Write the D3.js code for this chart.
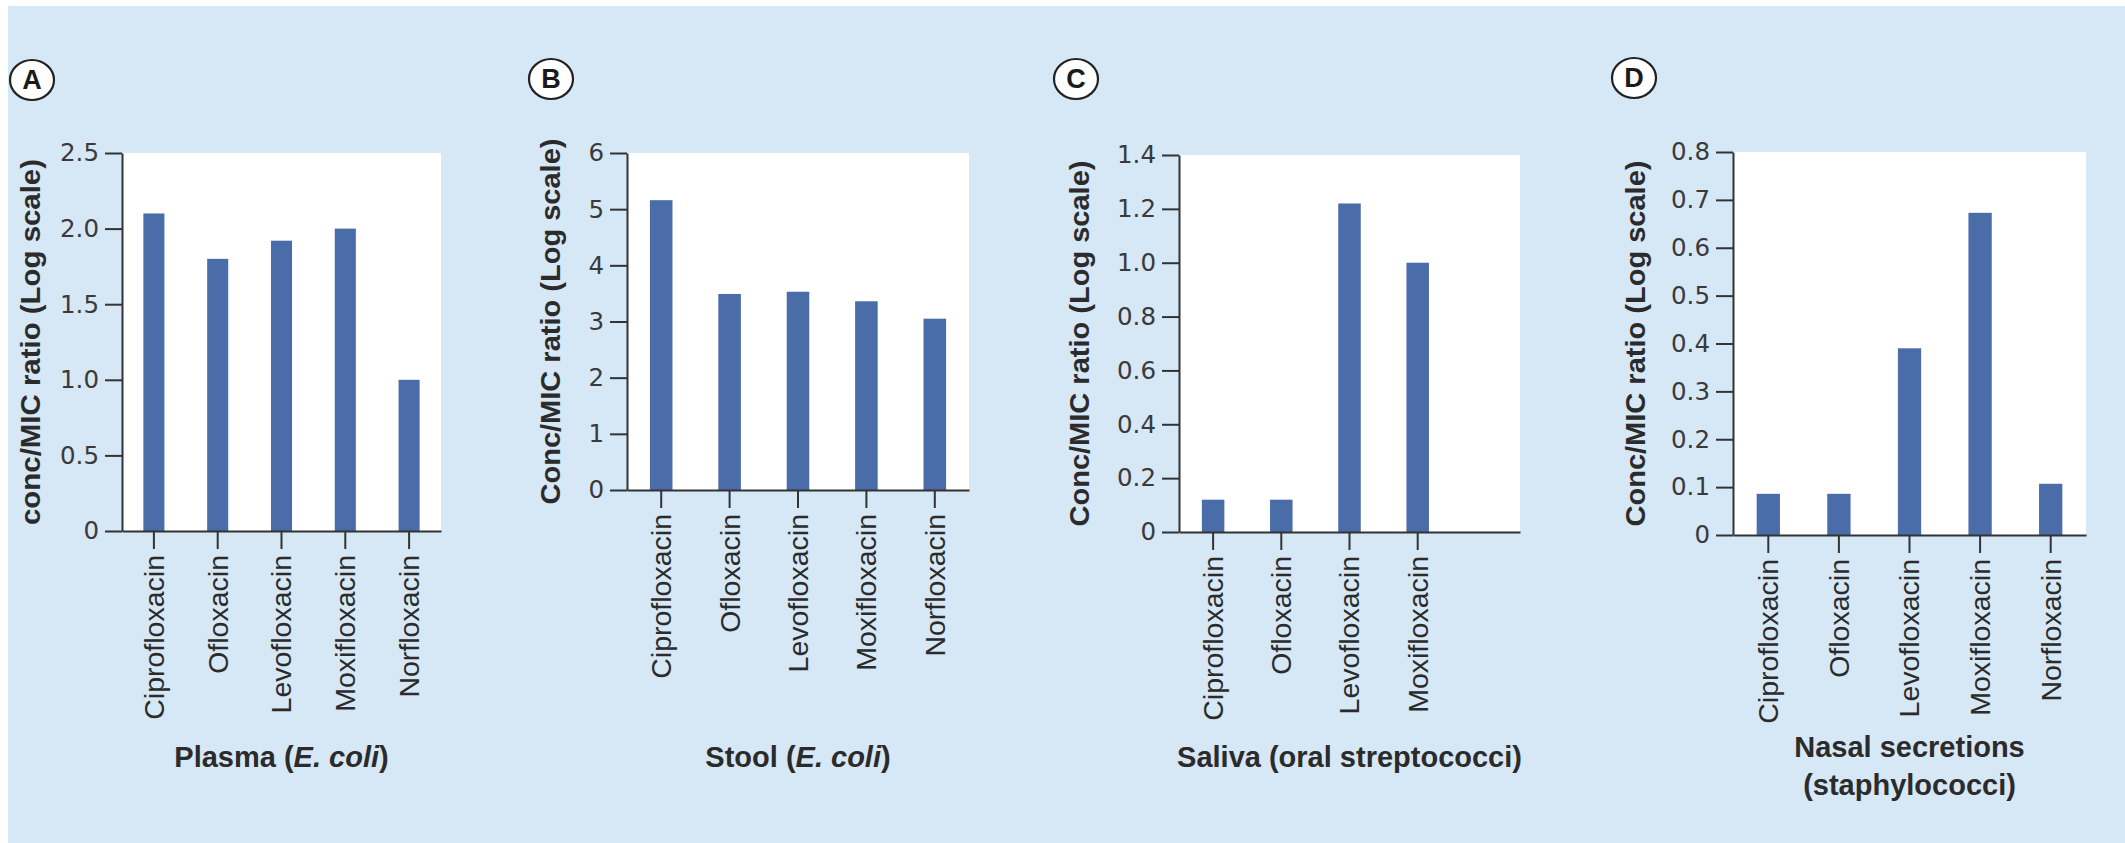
<!DOCTYPE html>
<html>
<head>
<meta charset="utf-8">
<script src="https://cdn.jsdelivr.net/npm/d3@7/dist/d3.min.js"></script>
<style>
  html, body { margin: 0; padding: 0; background: #ffffff; }
  svg { display: block; }
</style>
</head>
<body>
<svg id="chart" width="2125" height="843"></svg>
<script>
// Fluoroquinolones compared across four body sites
const drugs = ["Ciprofloxacin", "Ofloxacin", "Levofloxacin", "Moxifloxacin", "Norfloxacin"];
const salivaDrugs = ["Ciprofloxacin", "Ofloxacin", "Levofloxacin", "Moxifloxacin"];

// conc/MIC ratios (log scale) per site
const plasmaValues = [2.1, 1.8, 1.92, 2.0, 1.0];
const stoolValues = [5.16, 3.49, 3.53, 3.36, 3.05];
const salivaValues = [0.12, 0.12, 1.22, 1.0];
const nasalValues = [0.086, 0.086, 0.39, 0.673, 0.107];

// y tick values per site
const plasmaTicks = [0, 0.5, 1.0, 1.5, 2.0, 2.5];
const stoolTicks = [0, 1, 2, 3, 4, 5, 6];
const salivaTicks = [0, 0.2, 0.4, 0.6, 0.8, 1.0, 1.2, 1.4];
const nasalTicks = [0, 0.1, 0.2, 0.3, 0.4, 0.5, 0.6, 0.7, 0.8];

const panelLetters = ["A", "B", "C", "D"];
const yTitles = [
  "conc/MIC ratio (Log scale)",
  "Conc/MIC ratio (Log scale)",
  "Conc/MIC ratio (Log scale)",
  "Conc/MIC ratio (Log scale)"
];
// panel titles: list of lines, each a list of [text, italic]
const siteTitles = [
  [[["Plasma (", false], ["E. coli", true], [")", false]]],
  [[["Stool (", false], ["E. coli", true], [")", false]]],
  [[["Saliva (oral streptococci)", false]]],
  [[["Nasal secretions", false]], [["(staphylococci)", false]]]
];

const panels = [
  { names: drugs, shown: drugs, values: plasmaValues, ticks: plasmaTicks, fmt: d => d === 0 ? "0" : d3.format(".1f")(d) },
  { names: drugs, shown: drugs, values: stoolValues, ticks: stoolTicks, fmt: d3.format("d") },
  { names: drugs, shown: salivaDrugs, values: salivaValues, ticks: salivaTicks, fmt: d => d === 0 ? "0" : d3.format(".1f")(d) },
  { names: drugs, shown: drugs, values: nasalValues, ticks: nasalTicks, fmt: d => d === 0 ? "0" : d3.format(".1f")(d) }
];

// frame geometry for each panel
const layout = [
  { left: 122,  top: 153, right: 441,  bottom: 531, badgeX: 32,   badgeY: 80, labelX: 31,   titleY: [767] },
  { left: 627,  top: 153, right: 969,  bottom: 490, badgeX: 551,  badgeY: 79, labelX: 551,  titleY: [767] },
  { left: 1179, top: 155, right: 1520, bottom: 532, badgeX: 1076, badgeY: 79, labelX: 1080, titleY: [767] },
  { left: 1733, top: 152, right: 2086, bottom: 535, badgeX: 1634, badgeY: 78, labelX: 1636, titleY: [757, 795] }
];

const BG = "#d6e7f6";
const BAR = "#4a6ca9";
const INK = "#2b2b2b";
const AXIS = "#333333";

const svg = d3.select("#chart");

svg.append("rect")
  .attr("x", 8).attr("y", 6)
  .attr("width", 2125 - 8).attr("height", 843 - 6)
  .attr("fill", BG);

panels.forEach((p, i) => {
  const L = layout[i];
  const w = L.right - L.left;
  const h = L.bottom - L.top;
  const g = svg.append("g").attr("transform", `translate(${L.left},${L.top})`);

  const x = d3.scaleBand().domain(p.names).range([0, w]).paddingInner(0.67).paddingOuter(0.335);
  const y = d3.scaleLinear().domain([0, d3.max(p.ticks)]).range([h, 0]);

  g.append("rect").attr("width", w).attr("height", h).attr("fill", "#ffffff");

  g.selectAll("rect.bar")
    .data(p.shown.map((name, k) => ({ name, value: p.values[k] })))
    .join("rect")
    .attr("class", "bar")
    .attr("x", d => x(d.name))
    .attr("width", x.bandwidth())
    .attr("y", d => y(d.value))
    .attr("height", d => h - y(d.value))
    .attr("fill", BAR);

  // y axis
  const ya = g.append("g")
    .call(d3.axisLeft(y).tickValues(p.ticks).tickFormat(p.fmt).tickSize(17).tickSizeOuter(0).tickPadding(6));
  ya.select(".domain").attr("stroke", AXIS).attr("stroke-width", 2);
  ya.selectAll(".tick line").attr("stroke", AXIS).attr("stroke-width", 2);
  ya.selectAll(".tick text")
    .attr("fill", "#3a3a3a")
    .style("font-family", "'DejaVu Sans', sans-serif")
    .style("font-size", "24.5px");

  // x axis
  const xa = g.append("g")
    .attr("transform", `translate(0,${h})`)
    .call(d3.axisBottom(x).tickValues(p.shown).tickSize(18).tickSizeOuter(0).tickPadding(6));
  xa.select(".domain").attr("stroke", AXIS).attr("stroke-width", 2);
  xa.selectAll(".tick line").attr("stroke", AXIS).attr("stroke-width", 2);
  xa.selectAll(".tick text")
    .attr("transform", "rotate(-90)")
    .attr("x", -24)
    .attr("y", 0)
    .attr("dy", "0.35em")
    .attr("fill", INK)
    .style("text-anchor", "end")
    .style("font-family", "'Liberation Sans', Arial, sans-serif")
    .style("font-size", "28.5px");

  // y axis title
  svg.append("text")
    .attr("transform", `translate(${L.labelX},${L.top + h / 2}) rotate(-90)`)
    .attr("text-anchor", "middle")
    .attr("dominant-baseline", "central")
    .attr("textLength", 366)
    .attr("lengthAdjust", "spacingAndGlyphs")
    .attr("fill", INK)
    .style("font-family", "'Liberation Sans', Arial, sans-serif")
    .style("font-weight", "bold")
    .style("font-size", "27px")
    .text(yTitles[i]);

  // panel title below the axis
  siteTitles[i].forEach((line, li) => {
    const t = svg.append("text")
      .attr("x", L.left + w / 2)
      .attr("y", L.titleY[li])
      .attr("text-anchor", "middle")
      .attr("fill", INK)
      .style("font-family", "'Liberation Sans', Arial, sans-serif")
      .style("font-weight", "bold")
      .style("font-size", "29px");
    line.forEach(([txt, it]) => {
      t.append("tspan").style("font-style", it ? "italic" : "normal").text(txt);
    });
  });

  // panel letter badge
  svg.append("ellipse")
    .attr("cx", L.badgeX).attr("cy", L.badgeY)
    .attr("rx", 22).attr("ry", 20)
    .attr("fill", "#ffffff")
    .attr("stroke", "#222222")
    .attr("stroke-width", 2.2);
  svg.append("text")
    .attr("x", L.badgeX).attr("y", L.badgeY)
    .attr("text-anchor", "middle")
    .attr("dominant-baseline", "central")
    .attr("fill", "#1a1a1a")
    .style("font-family", "'Liberation Sans', Arial, sans-serif")
    .style("font-weight", "bold")
    .style("font-size", "27px")
    .text(panelLetters[i]);
});
</script>
</body>
</html>
